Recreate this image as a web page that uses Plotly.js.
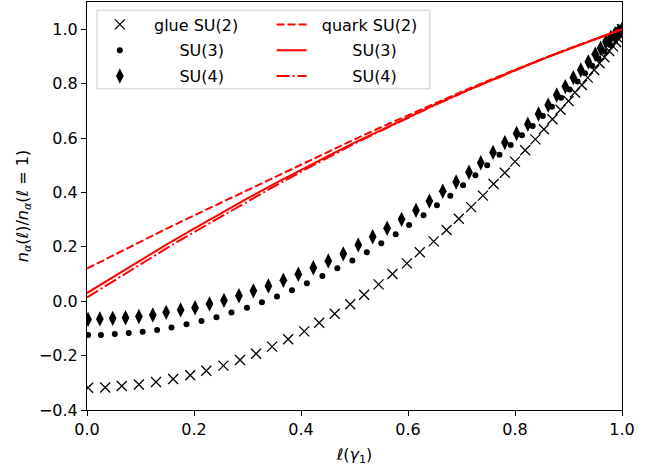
<!DOCTYPE html>
<html>
<head>
<meta charset="utf-8">
<script src="https://cdn.plot.ly/plotly-3.0.1.min.js"></script>
<style>html,body{margin:0;padding:0;background:#fff;}#plot{width:659px;height:466px;}</style>
</head>
<body>
<div id="plot"></div>
<script>
// glue SU(2)  (x markers)
const glueSU2_x = [0.002,0.034,0.065,0.097,0.129,0.161,0.193,0.223,0.255,0.286,0.316,0.346,0.376,0.406,0.434,0.463,0.492,0.518,0.545,0.571,0.598,0.622,0.648,0.672,0.695,0.718,0.740,0.760,0.781,0.800,0.819,0.838,0.854,0.870,0.885,0.900,0.912,0.925,0.936,0.948,0.958,0.967,0.976,0.983,0.989,0.993,0.996,0.998,1.0];
const glueSU2_y = [-0.318,-0.317,-0.312,-0.306,-0.297,-0.286,-0.272,-0.256,-0.237,-0.216,-0.193,-0.167,-0.140,-0.111,-0.079,-0.046,-0.011,0.024,0.062,0.100,0.139,0.180,0.220,0.262,0.303,0.346,0.388,0.431,0.472,0.513,0.555,0.595,0.632,0.669,0.704,0.736,0.767,0.795,0.822,0.850,0.875,0.897,0.920,0.937,0.953,0.966,0.978,0.989,1.0];
// glue SU(3)  (dots)
const glueSU3_x = [0.002,0.026,0.052,0.078,0.104,0.131,0.158,0.186,0.214,0.242,0.270,0.299,0.327,0.355,0.383,0.411,0.440,0.468,0.496,0.523,0.550,0.577,0.602,0.629,0.654,0.679,0.703,0.726,0.748,0.771,0.792,0.813,0.833,0.852,0.869,0.886,0.902,0.917,0.931,0.944,0.956,0.967,0.978,0.987,0.994,1.0];
const glueSU3_y = [-0.124,-0.124,-0.121,-0.117,-0.112,-0.106,-0.097,-0.085,-0.073,-0.059,-0.042,-0.024,-0.004,0.017,0.040,0.066,0.093,0.121,0.150,0.180,0.213,0.246,0.280,0.316,0.353,0.388,0.426,0.463,0.500,0.538,0.574,0.610,0.644,0.681,0.715,0.748,0.778,0.808,0.838,0.866,0.893,0.918,0.942,0.965,0.983,1.0];
// glue SU(4)  (diamonds)
const glueSU4_x = [0.002,0.024,0.048,0.072,0.097,0.123,0.148,0.175,0.202,0.229,0.256,0.284,0.311,0.339,0.367,0.395,0.423,0.451,0.479,0.507,0.534,0.561,0.588,0.615,0.640,0.665,0.690,0.714,0.736,0.759,0.781,0.803,0.824,0.844,0.862,0.878,0.894,0.909,0.923,0.937,0.950,0.960,0.970,0.979,0.987,0.994,1.0];
const glueSU4_y = [-0.067,-0.065,-0.063,-0.061,-0.056,-0.051,-0.041,-0.032,-0.024,-0.010,0.003,0.020,0.038,0.056,0.077,0.099,0.123,0.148,0.174,0.207,0.237,0.268,0.301,0.334,0.368,0.404,0.438,0.474,0.509,0.547,0.583,0.617,0.651,0.688,0.721,0.758,0.789,0.822,0.850,0.880,0.908,0.930,0.954,0.970,0.983,0.993,1.0];
// quark curves
const quark_x   = [0,0.05,0.10,0.15,0.20,0.25,0.30,0.35,0.40,0.45,0.50,0.55,0.60,0.65,0.70,0.75,0.80,0.85,0.90,0.95,1.00];
const quarkSU2_y = [0.120,0.170,0.219,0.268,0.315,0.362,0.410,0.457,0.503,0.549,0.595,0.640,0.684,0.727,0.770,0.811,0.851,0.890,0.928,0.964,1.000];
const quarkSU3_y = [0.030,0.091,0.151,0.210,0.267,0.323,0.378,0.431,0.483,0.533,0.583,0.630,0.677,0.722,0.766,0.808,0.849,0.889,0.927,0.964,1.000];
const quarkSU4_y = [0.014,0.075,0.136,0.196,0.254,0.311,0.368,0.422,0.476,0.528,0.579,0.627,0.675,0.721,0.765,0.807,0.849,0.889,0.927,0.964,1.000];

const tickVals_y = [-0.4,-0.2,0.0,0.2,0.4,0.6,0.8,1.0];
const tickVals_x = [0.0,0.2,0.4,0.6,0.8,1.0];

const NB = '\u00a0';
const pad = n => NB.repeat(n);
const FONT = 'DejaVu Sans, Liberation Sans, sans-serif';

const traces = [
  {x: glueSU2_x, y: glueSU2_y, mode: 'markers', name: pad(2)+'\u2005glue SU(2)', legend: 'legend', legendgroup: 'g2',
   marker: {symbol: 'x-thin-open', size: 10, color: 'black', line: {color: 'black', width: 1.3}}},
  {x: glueSU3_x, y: glueSU3_y, mode: 'markers', name: pad(7)+'\u2005SU(3)', legend: 'legend', legendgroup: 'g3',
   marker: {symbol: 'circle', size: 6, color: 'black'}},
  {x: glueSU4_x, y: glueSU4_y, mode: 'markers', name: pad(7)+'\u2005SU(4)', legend: 'legend', legendgroup: 'g4',
   marker: {symbol: 'diamond-tall', size: 11, color: 'black'}},
  {x: quark_x, y: quarkSU2_y, mode: 'lines', name: pad(2)+'quark SU(2)', legend: 'legend2', legendgroup: 'q2',
   line: {color: 'red', width: 2, dash: '8px,3px'}},
  {x: quark_x, y: quarkSU3_y, mode: 'lines', name: pad(8)+'SU(3)', legend: 'legend2', legendgroup: 'q3',
   line: {color: 'red', width: 2, dash: 'solid'}},
  {x: quark_x, y: quarkSU4_y, mode: 'lines', name: pad(8)+'SU(4)', legend: 'legend2', legendgroup: 'q4',
   line: {color: 'red', width: 2, dash: '13px,3px,2px,3px'}}
];

const axisCommon = {
  showgrid: false, zeroline: false, showline: true, mirror: true,
  linecolor: 'black', linewidth: 1, ticks: 'outside', ticklen: 5, tickwidth: 1,
  tickcolor: 'black', tickfont: {family: FONT, size: 16, color: 'black'}
};

const layout = {
  width: 659, height: 466,
  margin: {l: 87, r: 37, t: 2, b: 56},
  paper_bgcolor: 'white', plot_bgcolor: 'white',
  font: {family: FONT, size: 16, color: 'black'},
  xaxis: Object.assign({}, axisCommon, {
    range: [0, 1], tickvals: tickVals_x, tickformat: '.1f',
    title: {text: '<i>ℓ</i>(<i>γ</i><sub>1</sub>)', font: {family: FONT, size: 16}}
  }),
  yaxis: Object.assign({}, axisCommon, {
    range: [-0.4, 1.1], tickvals: tickVals_y, tickformat: '.1f', automargin: true,
    title: {text: '<i>n</i><sub><i>α</i></sub>(<i>ℓ</i>)/<i>n</i><sub><i>α</i></sub>(<i>ℓ</i> = 1)', font: {family: FONT, size: 16}, standoff: 6}
  }),
  legend: {x: 0.024, y: 0.9865, xanchor: 'left', yanchor: 'top', bgcolor: 'rgba(0,0,0,0)',
    borderwidth: 0, font: {family: FONT, size: 16, color: 'black'}, tracegroupgap: 2},
  legend2: {x: 0.345, y: 0.9865, xanchor: 'left', yanchor: 'top', bgcolor: 'rgba(0,0,0,0)',
    borderwidth: 0, font: {family: FONT, size: 16, color: 'black'}, tracegroupgap: 2},
  shapes: [{type: 'rect', xref: 'paper', yref: 'paper', x0: 0.0187, x1: 0.641, y0: 0.787, y1: 0.980,
    line: {color: '#cccccc', width: 1}, fillcolor: 'rgba(255,255,255,0.8)', layer: 'above'}],
  showlegend: true
};

Plotly.newPlot('plot', traces, layout, {staticPlot: true, displayModeBar: false});
</script>
</body>
</html>
